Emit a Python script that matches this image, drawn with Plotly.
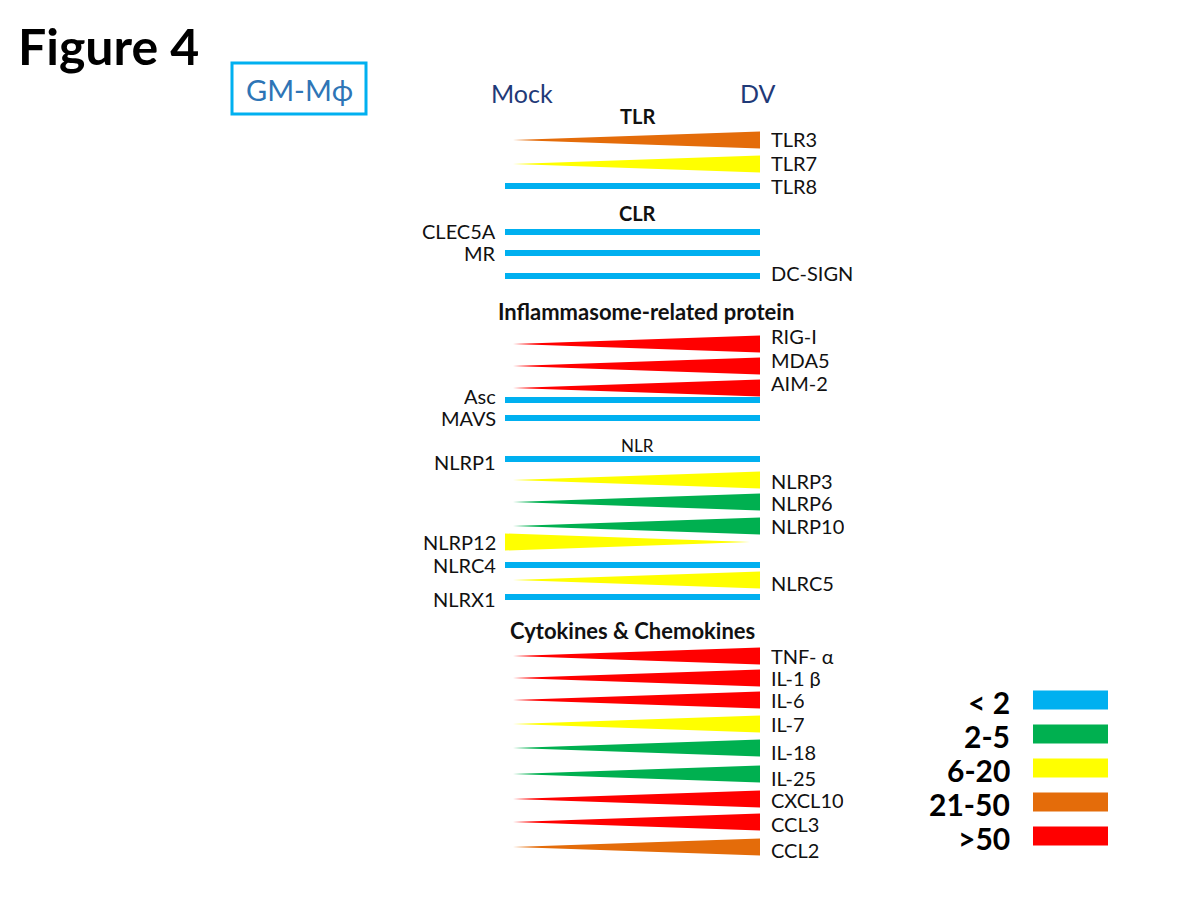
import plotly.graph_objects as go

# ---------------- data ----------------
genes = ["TLR3", "TLR7", "TLR8",
         "CLEC5A", "MR", "DC-SIGN",
         "RIG-I", "MDA5", "AIM-2", "Asc", "MAVS",
         "NLRP1", "NLRP3", "NLRP6", "NLRP10", "NLRP12", "NLRC4", "NLRC5", "NLRX1",
         "TNF- α", "IL-1 β", "IL-6", "IL-7", "IL-18", "IL-25", "CXCL10", "CCL3", "CCL2"]
fold_class = ["21-50", "6-20", "<2",
              "<2", "<2", "<2",
              ">50", ">50", ">50", "<2", "<2",
              "<2", "6-20", "2-5", "2-5", "6-20", "<2", "6-20", "<2",
              ">50", ">50", ">50", "6-20", "2-5", "2-5", ">50", ">50", "21-50"]
direction = ["up", "up", "flat",
             "flat", "flat", "flat",
             "up", "up", "up", "flat", "flat",
             "flat", "up", "up", "up", "down", "flat", "up", "flat",
             "up", "up", "up", "up", "up", "up", "up", "up", "up"]
label_side = ["right", "right", "right",
              "left", "left", "right",
              "right", "right", "right", "left", "left",
              "left", "right", "right", "right", "left", "left", "right", "left",
              "right", "right", "right", "right", "right", "right", "right", "right", "right"]
sections = ["TLR", "CLR", "Inflammasome-related protein", "NLR", "Cytokines & Chemokines"]
legend_labels = ["< 2", "2-5", "6-20", "21-50", ">50"]
conditions = ["Mock", "DV"]

# ---------------- layout / style ----------------
colors = {"<2": "#00b0f0", "2-5": "#00b050", "6-20": "#ffff00",
          "21-50": "#e46c0a", ">50": "#ff0000"}
legend_keys = ["<2", "2-5", "6-20", "21-50", ">50"]

row_y = [140, 164, 186,
         232, 253, 276,
         344, 366, 388, 400, 418,
         459, 480, 502, 526, 542, 565, 580, 597,
         656, 678, 700, 724, 748, 774, 799, 822, 847]
label_dy = [-1, -1, 0,
            -1, 0, -3,
            -8, -6, -5, -4, 0,
            3, 1, 1, 0, 0, 0, 3, 2,
            0, 0, 0, 0, 4, 4, 1, 2, 3]
section_y = [116, 213, 311, 445, 630]
section_x = [637, 637, 646, 637, 632]
section_bold = [True, True, True, False, True]
section_size = [20, 20, 22, 17, 22]

X_LEFT_TIP = 513
X_RIGHT = 760
X_BAR_LEFT = 505
HALF_H = 8.5
BAR_W = 6
FONT = "Lato, 'Open Sans', sans-serif"

fig = go.Figure()

for g, fc, d, y in zip(genes, fold_class, direction, row_y):
    c = colors[fc]
    if d == "flat":
        fig.add_trace(go.Scatter(x=[X_BAR_LEFT, X_RIGHT], y=[y, y], mode="lines",
                                 line=dict(color=c, width=BAR_W), hoverinfo="skip",
                                 showlegend=False))
    elif d == "up":
        fig.add_trace(go.Scatter(x=[X_LEFT_TIP, X_RIGHT, X_RIGHT, X_LEFT_TIP],
                                 y=[y, y - HALF_H, y + HALF_H, y], mode="lines",
                                 fill="toself", fillcolor=c, line=dict(width=0, color=c),
                                 hoverinfo="skip", showlegend=False))
    else:
        fig.add_trace(go.Scatter(x=[X_RIGHT - 10, X_BAR_LEFT, X_BAR_LEFT, X_RIGHT - 10],
                                 y=[y, y - HALF_H, y + HALF_H, y], mode="lines",
                                 fill="toself", fillcolor=c, line=dict(width=0, color=c),
                                 hoverinfo="skip", showlegend=False))

annotations = []
for g, side, y, dy in zip(genes, label_side, row_y, label_dy):
    common = dict(y=y + dy, text=g, yanchor="middle", showarrow=False, height=20,
                  font=dict(family=FONT, size=20, color="#111111"))
    if side == "right":
        annotations.append(dict(x=769, xanchor="left", **common))
    else:
        annotations.append(dict(x=498, xanchor="right", **common))

for s, sx, sy, b, fs in zip(sections, section_x, section_y, section_bold, section_size):
    annotations.append(dict(x=sx, y=sy, text=f"<b>{s}</b>" if b else s, xanchor="center",
                            yanchor="middle", showarrow=False,
                            font=dict(family=FONT, size=fs, color="#111111")))

for cond, cx in zip(conditions, [522, 757]):
    annotations.append(dict(x=cx, y=93, text=cond, xanchor="center", yanchor="middle",
                            showarrow=False, font=dict(family=FONT, size=25, color="#1f3a78")))

annotations.append(dict(x=16, y=46, text="<b>Figure 4</b>", xanchor="left", yanchor="middle",
                        showarrow=False, font=dict(family=FONT, size=50, color="#000000")))
annotations.append(dict(x=299, y=89, text="GM-Mϕ", xanchor="center", yanchor="middle",
                        showarrow=False, font=dict(family=FONT, size=29, color="#2e75b6")))

shapes = [dict(type="rect", x0=232, x1=366, y0=63, y1=114, xref="x", yref="y",
               line=dict(color="#00b0f0", width=3), fillcolor="rgba(0,0,0,0)")]

# legend
leg_y = [700, 734, 768, 802, 836]
for lab, key, ly in zip(legend_labels, legend_keys, leg_y):
    fig.add_trace(go.Scatter(x=[1033, 1108], y=[ly, ly], mode="lines",
                             line=dict(color=colors[key], width=19), hoverinfo="skip",
                             showlegend=False))
    annotations.append(dict(x=1012, y=ly + 2, text=f"<b>{lab}</b>", xanchor="right",
                            yanchor="middle", showarrow=False, height=30,
                            font=dict(family=FONT, size=30, color="#000000")))

fig.update_layout(
    width=1200, height=900,
    margin=dict(l=0, r=0, t=0, b=0),
    paper_bgcolor="white", plot_bgcolor="white",
    xaxis=dict(range=[0, 1200], visible=False, fixedrange=True),
    yaxis=dict(range=[900, 0], visible=False, fixedrange=True),
    annotations=annotations, shapes=shapes,
)

fig.write_html("out.html", config={"displayModeBar": False},
               post_script="document.body.style.margin='0';document.body.style.overflow='hidden';")
